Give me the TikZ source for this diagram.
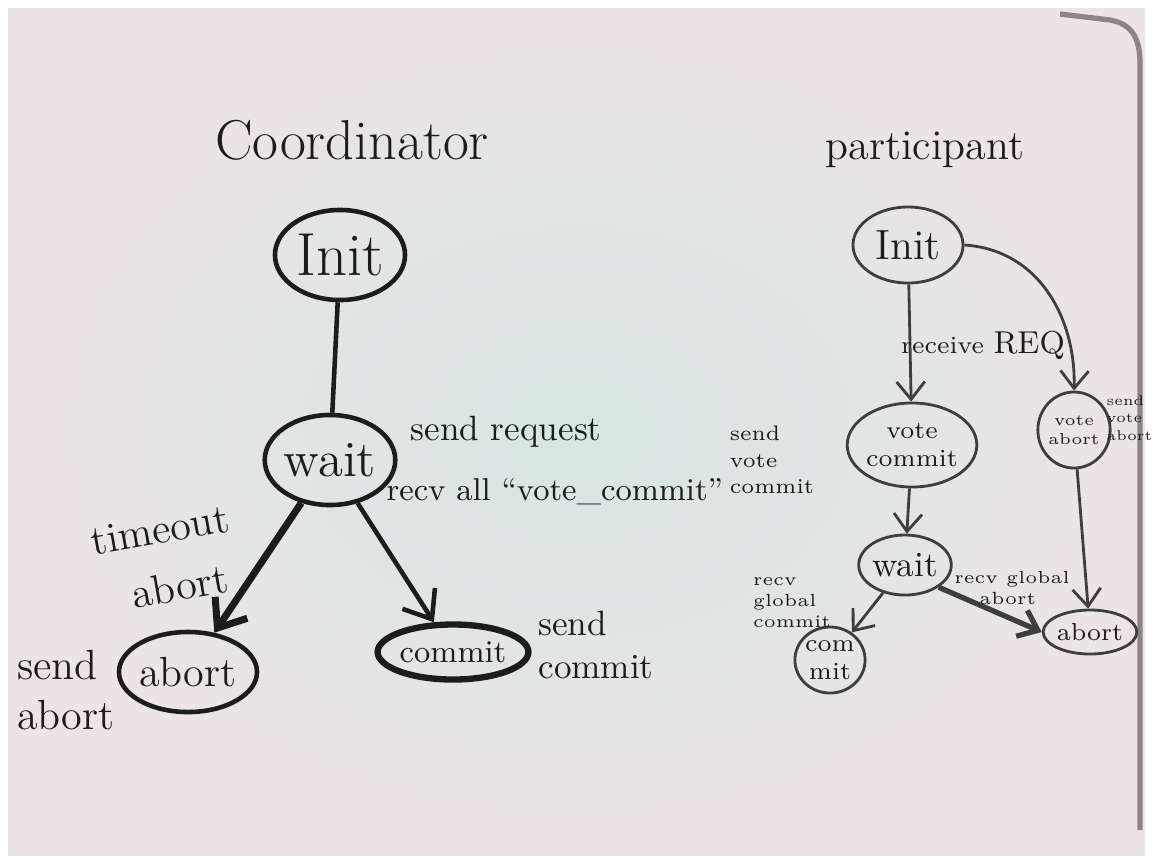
\documentclass[tikz,border=0pt]{standalone}
\usepackage{tikz}
\usetikzlibrary{shapes.geometric,arrows.meta}
\definecolor{boardmid}{HTML}{D6E6E2}
\definecolor{boardedge}{HTML}{ECE4E6}
\definecolor{boardrim}{HTML}{8A8688}
\definecolor{marker}{HTML}{1C1C1C}

\begin{document}
\begin{tikzpicture}[x=0.01cm,y=-0.01cm,
  state/.style={ellipse,draw=marker,line width=1.3pt,inner sep=0pt,text=marker,align=center},
  pstate/.style={ellipse,draw=marker!85,line width=0.8pt,inner sep=0pt,text=marker,align=center},
  cedge/.style={draw=marker,line width=1.3pt,-{Straight Barb[length=7pt,width=11pt]}},
  pedge/.style={draw=marker!85,line width=0.8pt,-{Straight Barb[length=5pt,width=8pt]}},
  note/.style={text=marker,align=left,inner sep=0pt},
  pnote/.style={text=marker,align=left,inner sep=0pt,font=\fontsize{5}{6}\selectfont}]
  \useasboundingbox (0,0) rectangle (1152,860);
  \fill[white] (0,0) rectangle (1152,860);
  \shade[inner color=boardmid,outer color=boardedge] (8,8) rectangle (1145,855);
  \draw[boardrim,line width=1.5pt] (1060,14) -- (1110,20) .. controls (1132,24) and (1140,38) .. (1140,64) -- (1140,830);

  \node[note,font=\fontsize{16}{19}\selectfont] (ctitle) at (352,140) {Coordinator};
  \node[note,font=\large] (ptitle) at (925,150) {participant};

  \node[state,minimum width=1.3cm,minimum height=0.9cm,font=\LARGE] (cinit) at (340,255) {Init};
  \node[state,minimum width=1.05cm,minimum height=0.9cm,font=\Large] (cwait) at (330,460) {wait};
  \node[state,minimum width=0.9cm,minimum height=0.8cm,font=\large] (cabort) at (188,672) {abort};
  \node[state,minimum width=0.82cm,minimum height=0.55cm,font=\small,line width=1.8pt] (ccommit) at (453,652) {commit};

  \draw[draw=marker,line width=1.3pt] (cinit) -- (cwait);
  \draw[cedge,line width=2pt] (cwait) -- (cabort);
  \draw[cedge] (cwait) -- (ccommit);

  \node[note,font=\normalsize,anchor=west] (creq) at (410,432) {send request};
  \node[note,font=\small,anchor=west] (crecv) at (386,492) {recv all ``vote\_commit''};
  \node[note,font=\large,rotate=10] (ctime) at (160,530) {timeout};
  \node[note,font=\large,rotate=10] (ctimeab) at (180,586) {abort};
  \node[note,font=\large] (csendab) at (66,690) {send\\abort};
  \node[note,font=\normalsize] (csendco) at (596,645) {send\\commit};

  \node[pstate,minimum width=0.5cm,minimum height=0.76cm,font=\fontsize{4.5}{5.5}\selectfont] (pva) at (1074,430) {vote\\abort};
  \node[pstate,minimum width=1.1cm,minimum height=0.76cm,font=\large] (pinit) at (908,245) {Init};
  \node[pstate,minimum width=0.76cm,minimum height=0.84cm,font=\scriptsize] (pvc) at (912,445) {vote\\commit};
  \node[pstate,minimum width=0.8cm,minimum height=0.6cm,font=\normalsize] (pwait) at (905,565) {wait};
  \node[pstate,minimum width=0.6cm,minimum height=0.66cm,font=\scriptsize] (pcommit) at (830,660) {com\\mit};
  \node[pstate,minimum width=0.56cm,minimum height=0.44cm,font=\scriptsize] (pabort) at (1090,632) {abort};

  \draw[pedge] (pinit) -- (pvc);
  \draw[pedge] (pinit.east) .. controls (1040,250) and (1076,320) .. (pva.north);
  \draw[pedge] (pvc) -- (pwait);
  \draw[pedge] (pva) -- (pabort);
  \draw[pedge] (pwait) -- (pcommit);
  \draw[pedge,line width=1.5pt] (pwait.south east) -- (pabort.west);

  \node[note,font=\scriptsize] (preq) at (983,345) {receive {\small REQ}};
  \node[pnote,font=\fontsize{6}{7.5}\selectfont] (psendvc) at (772,460) {send\\vote\\commit};
  \node[pnote,anchor=west,font=\fontsize{4}{5}\selectfont] (psendva) at (1106,418) {send\\vote\\abort};
  \node[pnote] (precvgc) at (792,603) {recv\\global\\commit};
  \node[pnote] (precvga) at (1012,588) {recv global\\\ \ \ abort};
\end{tikzpicture}
\end{document}
